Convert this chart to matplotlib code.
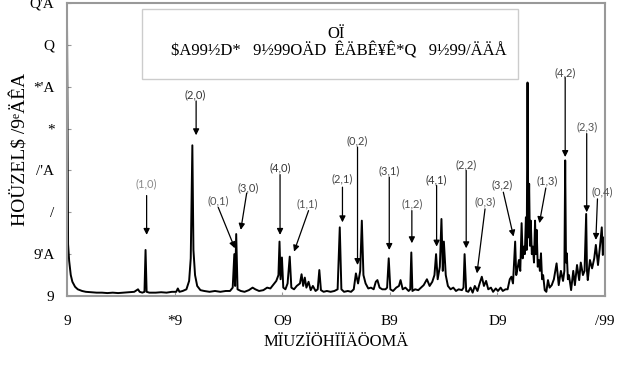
import matplotlib
matplotlib.use("Agg")
import matplotlib.pyplot as plt
from matplotlib.patches import Rectangle

# ---- data ----
freq = [0.0, 0.2, 0.4, 0.7, 1.0, 1.5, 2.0, 2.8, 3.5, 4.5, 5.5, 6.5, 7.5, 8.5, 9.5, 10.5,
        11.5, 12.5, 13.2, 13.5, 14.0, 14.4, 14.6, 14.8, 15.3, 16.5, 17.5, 18.5, 19.5, 20.3,
        20.6, 20.9, 21.5, 22.2, 22.7, 23.0, 23.3, 23.5, 23.8, 24.2, 24.8, 25.5, 26.5, 27.5,
        28.5, 29.5, 30.3, 30.8, 31.1, 31.25, 31.45, 31.7, 32.3, 33.0, 33.8, 34.5, 35.0, 35.7,
        36.5, 37.2, 37.8, 38.4, 38.9, 39.3, 39.5, 39.7, 39.95, 40.2, 40.6, 41.0, 41.4, 41.7,
        42.2, 42.7, 43.3, 43.6, 43.9, 44.2, 44.5, 44.9, 45.3, 45.7, 46.2, 46.6, 46.9, 47.2,
        47.7, 48.3, 49.0, 49.7, 50.3, 50.7, 51.0, 51.5, 52.2, 52.8, 53.3, 53.7, 54.1, 54.5,
        54.8, 55.1, 55.5, 56.0, 56.5, 57.0, 57.4, 57.7, 58.1, 58.6, 59.2, 59.5, 59.8, 60.1,
        60.6, 61.2, 61.7, 62.0, 62.4, 62.9, 63.5, 63.8, 64.0, 64.2, 64.7, 65.3, 65.8, 66.3,
        66.9, 67.4, 67.9, 68.3, 68.6, 68.9, 69.3, 69.6, 69.85, 70.05, 70.4, 70.8, 71.3, 71.8,
        72.3, 72.8, 73.4, 73.7, 73.9, 74.2, 74.6, 75.0, 75.4, 75.8, 76.3, 76.7, 77.1, 77.5,
        77.9, 78.3, 78.8, 79.2, 79.7, 80.1, 80.6, 81.0, 81.5, 81.9, 82.3, 82.6, 82.9, 83.3,
        83.5, 83.8, 84.0, 84.25, 84.5, 84.7, 84.9, 85.1, 85.3, 85.45, 85.6, 85.75, 85.9, 86.05,
        86.2, 86.4, 86.6, 86.8, 87.0, 87.15, 87.3, 87.5, 87.7, 87.9, 88.1, 88.3, 88.5, 88.8,
        89.1, 89.4, 89.7, 90.1, 90.5, 91.0, 91.4, 91.8, 92.2, 92.45, 92.6, 92.75, 92.9, 93.1,
        93.3, 93.7, 94.1, 94.4, 94.8, 95.2, 95.5, 95.9, 96.2, 96.5, 96.65, 96.8, 97.2, 97.6,
        98.0, 98.3, 98.7, 99.0, 99.4, 99.6, 99.8, 100.0]
amp = [3.29, 0.62, 0.42, 0.25, 0.17, 0.11, 0.08, 0.06, 0.05, 0.045, 0.04, 0.04, 0.035, 0.04, 0.035, 0.04,
       0.045, 0.05, 0.08, 0.05, 0.04, 0.05, 0.55, 0.05, 0.04, 0.04, 0.045, 0.04, 0.05, 0.05,
       0.09, 0.05, 0.06, 0.08, 0.18, 0.45, 1.80, 0.55, 0.25, 0.12, 0.07, 0.06, 0.05, 0.06,
       0.05, 0.06, 0.06, 0.10, 0.50, 0.12, 0.74, 0.08, 0.06, 0.05, 0.07, 0.10, 0.08, 0.06,
       0.07, 0.10, 0.09, 0.14, 0.18, 0.25, 0.65, 0.20, 0.46, 0.10, 0.08, 0.15, 0.47, 0.10,
       0.08, 0.12, 0.15, 0.26, 0.12, 0.22, 0.10, 0.17, 0.07, 0.12, 0.06, 0.08, 0.31, 0.07,
       0.05, 0.06, 0.05, 0.06, 0.08, 0.82, 0.08, 0.05, 0.06, 0.05, 0.08, 0.27, 0.15, 0.30,
       0.90, 0.25, 0.15, 0.09, 0.10, 0.08, 0.17, 0.19, 0.10, 0.08, 0.08, 0.10, 0.45, 0.08,
       0.06, 0.10, 0.12, 0.19, 0.08, 0.10, 0.06, 0.08, 0.52, 0.06, 0.08, 0.07, 0.10, 0.13,
       0.20, 0.12, 0.17, 0.25, 0.50, 0.20, 0.35, 0.92, 0.30, 0.65, 0.25, 0.12, 0.08, 0.10,
       0.06, 0.08, 0.07, 0.10, 0.50, 0.06, 0.05, 0.10, 0.04, 0.12, 0.06, 0.15, 0.23, 0.12,
       0.18, 0.08, 0.10, 0.05, 0.09, 0.06, 0.10, 0.06, 0.08, 0.08, 0.20, 0.23, 0.15, 0.65,
       0.25, 0.35, 0.43, 0.30, 0.87, 0.45, 0.59, 0.50, 0.94, 0.55, 2.55, 0.70, 1.34, 0.60,
       0.90, 0.50, 0.59, 0.40, 0.90, 0.50, 0.79, 0.35, 0.43, 0.30, 0.51, 0.20, 0.25, 0.07,
       0.05, 0.19, 0.10, 0.13, 0.20, 0.39, 0.13, 0.30, 0.18, 0.30, 1.62, 0.40, 0.51, 0.20,
       0.25, 0.07, 0.30, 0.13, 0.37, 0.19, 0.40, 0.25, 0.30, 0.98, 0.30, 0.19, 0.43, 0.33,
       0.45, 0.61, 0.37, 0.55, 0.82, 0.49, 0.70, 0.62]

x_ticks = [0, 20, 40, 60, 80, 100]
x_tick_labels = ["9", "*9", "O9", "B9", "D9", "/99"]
y_ticks = [0, 0.5, 1, 1.5, 2, 2.5, 3, 3.5]
y_tick_labels = ["9", "9'A", "/", "/'A", "*", "*'A", "Q", "Q'A"]
x_label = "MÏUZÏÖHÏÏÄÖOMÄ"
y_label = "HOÜZEL$ /9ᵉÄÊA"
box_title = "OÏ"
box_text = "$A99½D*   9½99OÄD  ÊÄBÊ¥Ê*Q   9½99/ÄÄÅ"

# mode labels: text, label x, label y, arrow start x, arrow start y, tip x, tip y
mode_labels = ["(1,0)", "(2,0)", "(0,1)", "(3,0)", "(4,0)", "(1,1)", "(2,1)", "(0,2)", "(3,1)",
               "(1,2)", "(4,1)", "(2,2)", "(0,3)", "(3,2)", "(1,3)", "(4,2)", "(2,3)", "(0,4)"]
label_x = [14.8, 23.8, 28.1, 33.7, 39.6, 44.6, 51.1, 54.0, 59.9, 64.1, 68.7, 74.2, 77.7, 80.8, 89.3, 92.6, 96.6, 99.4]
label_y = [1.34, 2.40, 1.14, 1.29, 1.53, 1.10, 1.40, 1.85, 1.49, 1.10, 1.39, 1.57, 1.12, 1.33, 1.38, 2.67, 2.02, 1.24]
start_x = [14.8, 24.0, 28.1, 33.4, 39.6, 44.9, 51.2, 54.0, 59.9, 64.1, 68.7, 74.2, 77.7, 81.1, 89.0, 92.6, 96.6, 98.6]
start_y = [1.20, 2.33, 1.06, 1.23, 1.45, 1.02, 1.30, 1.78, 1.42, 1.02, 1.32, 1.50, 1.04, 1.24, 1.29, 2.61, 1.94, 1.16]
tip_x = [14.8, 24.0, 31.2, 32.3, 39.6, 42.2, 51.2, 54.0, 59.9, 64.1, 68.7, 74.2, 76.2, 83.0, 87.8, 92.6, 96.6, 98.3]
tip_y = [0.73, 1.92, 0.57, 0.79, 0.73, 0.53, 0.88, 0.37, 0.55, 0.63, 0.59, 0.57, 0.27, 0.71, 0.87, 1.66, 1.00, 0.67]
label_colors = ["#8a8a8a", "#333333", "#555555", "#444444", "#333333", "#555555", "#444444", "#444444",
                "#444444", "#555555", "#333333", "#444444", "#555555", "#444444", "#444444", "#444444",
                "#555555", "#555555"]

serif = ["Liberation Serif", "DejaVu Serif"]

fig = plt.figure(figsize=(6.18, 3.66), dpi=100)
ax = fig.add_axes([67 / 618, 70 / 366, 538 / 618, 293 / 366])

ax.plot(freq, amp, color="black", lw=1.4)

ax.set_xlim(0, 100)
ax.set_ylim(0, 3.5)
ax.set_xticks(x_ticks)
ax.set_xticklabels(x_tick_labels, family=serif, fontsize=11)
ax.set_yticks(y_ticks)
ax.set_yticklabels(y_tick_labels, family=serif, fontsize=11)
ax.tick_params(direction="in", length=3, color="#999999", pad=9)
ax.tick_params(axis="x", pad=14)
for s in ax.spines.values():
    s.set_color("#999999")
    s.set_linewidth(1.5)

ax.set_xlabel(x_label, family=serif, fontsize=12, labelpad=4)
ax.set_ylabel(y_label, family=serif, fontsize=14, labelpad=0)

# info box
ax.add_patch(Rectangle((0.139, 0.74), 0.699, 0.24, transform=ax.transAxes,
                       facecolor="white", edgecolor="#cccccc", lw=1, zorder=3))
ax.text(0.50, 0.895, box_title, transform=ax.transAxes, ha="center", va="center",
        family=serif, fontsize=12, zorder=4)
ax.text(0.505, 0.835, box_text, transform=ax.transAxes, ha="center", va="center",
        family=serif, fontsize=12, zorder=4)

for i, lab in enumerate(mode_labels):
    ax.annotate("", xy=(tip_x[i], tip_y[i]), xytext=(start_x[i], start_y[i]),
                arrowprops=dict(arrowstyle="-|>", color="black", lw=0.9,
                                mutation_scale=9, shrinkA=0, shrinkB=0),
                annotation_clip=False)
    ax.text(label_x[i], label_y[i], lab, ha="center", va="center", fontsize=8,
            family=["Lato", "DejaVu Sans"], color=label_colors[i], clip_on=False)

fig.savefig("out.png", dpi=100)
